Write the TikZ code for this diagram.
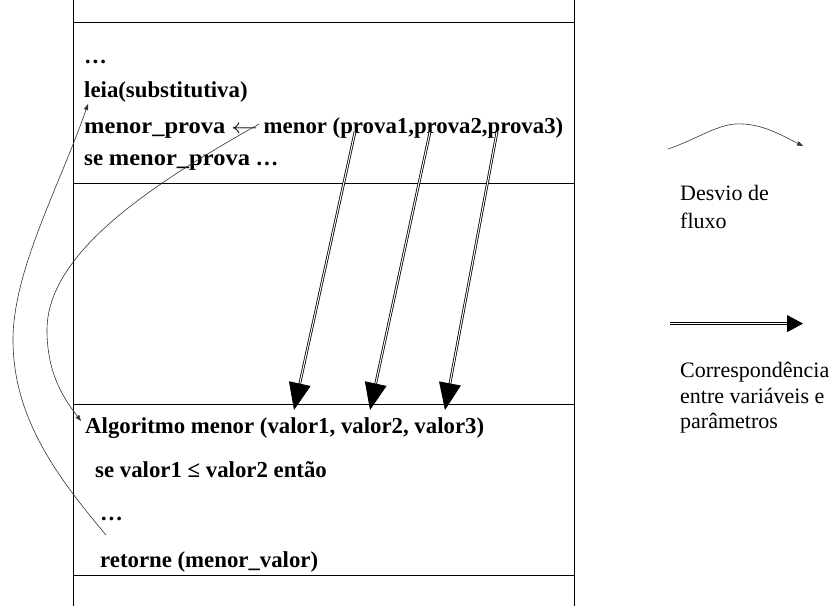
\documentclass[tikz,border=0pt]{standalone}
\usepackage{fontspec}
\usepackage{graphicx}
\setmainfont{Liberation Serif}
\usetikzlibrary{arrows.meta}
\newcommand{\mprova}{\scalebox{1.075}[1]{menor\_prova}}
\begin{document}
\begin{tikzpicture}[x=1pt,y=-1pt,
  code/.style={anchor=base west, inner sep=0pt, font=\fontsize{22.8}{26}\selectfont\bfseries},
  legend/.style={anchor=base west, inner sep=0pt, font=\fontsize{22}{26}\selectfont},
  frame/.style={line width=0.8pt},
  flow/.style={line width=0.6pt, draw=black!80, -{Triangle[length=6pt,width=4.5pt]}},
  corr/.style={double, double distance=1pt, line width=0.8pt, -{Triangle[length=27pt,width=22pt]}},
  corrlegend/.style={double, double distance=1pt, line width=0.8pt, -{Triangle[length=16pt,width=17pt]}}]
\useasboundingbox (0,0) rectangle (829,606);
% frame
\draw[frame] (73,0) -- (73,606);
\draw[frame] (574,0) -- (574,606);
\foreach \yy in {22,183,404,575} \draw[frame] (73,\yy) -- (574,\yy);
% upper code
\node[code] (dots1) at (84,63) {\dots};
\node[code] (leia) at (84,97) {leia(substitutiva)};
\node[code] (call) at (84,133) {\mprova{} \scalebox{1.3}[1]{$\leftarrow$} menor (prova1,prova2,prova3)};
\node[code] (se1) at (84,165) {se \mprova{} \dots};
% lower code
\node[code] (alg) at (85,433) {Algoritmo menor (valor1, valor2, valor3)};
\node[code] (se2) at (95,477) {se valor1 ≤ valor2 então};
\node[code] (dots2) at (100,520) {\dots};
\node[code] (ret) at (100,567) {retorne (menor\_valor)};
% correspondence arrows
\coordinate (p1) at (355,132); \coordinate (v1) at (294,410);
\coordinate (p2) at (430,132); \coordinate (v2) at (370,410);
\coordinate (p3) at (497,132); \coordinate (v3) at (445,410);
\draw[corr] (p1) -- (v1);
\draw[corr] (p2) -- (v2);
\draw[corr] (p3) -- (v3);
% flow curves
\coordinate (callstart) at (259,124);
\coordinate (bendB) at (47,330);
\coordinate (algin) at (81,421);
\draw[flow] (callstart) .. controls (160,180) and (47,250) .. (bendB)
  .. controls (47,375) and (65,400) .. (algin);
\coordinate (retstart) at (106,535);
\coordinate (bendA) at (13,340);
\coordinate (back) at (88,104);
\draw[flow] (retstart) .. controls (60,480) and (13,420) .. (bendA)
  .. controls (13,270) and (60,185) .. (back);
% legend
\coordinate (l1s) at (668,149); \coordinate (l1m) at (743,124); \coordinate (l1e) at (803,146);
\draw[flow] (l1s) .. controls (700,138) and (720,122) .. (l1m)
  .. controls (765,125) and (785,137) .. (l1e);
\node[legend] (desvio) at (680,200) {Desvio de};
\node[legend] (fluxo) at (680,228) {fluxo};
\coordinate (l2s) at (670,323.6); \coordinate (l2e) at (803,323.6);
\draw[corrlegend] (l2s) -- (l2e);
\node[legend] (corr1) at (680,377) {Correspondência};
\node[legend] (corr2) at (680,403) {entre variáveis e};
\node[legend] (corr3) at (680,428) {parâmetros};
\end{tikzpicture}
\end{document}
